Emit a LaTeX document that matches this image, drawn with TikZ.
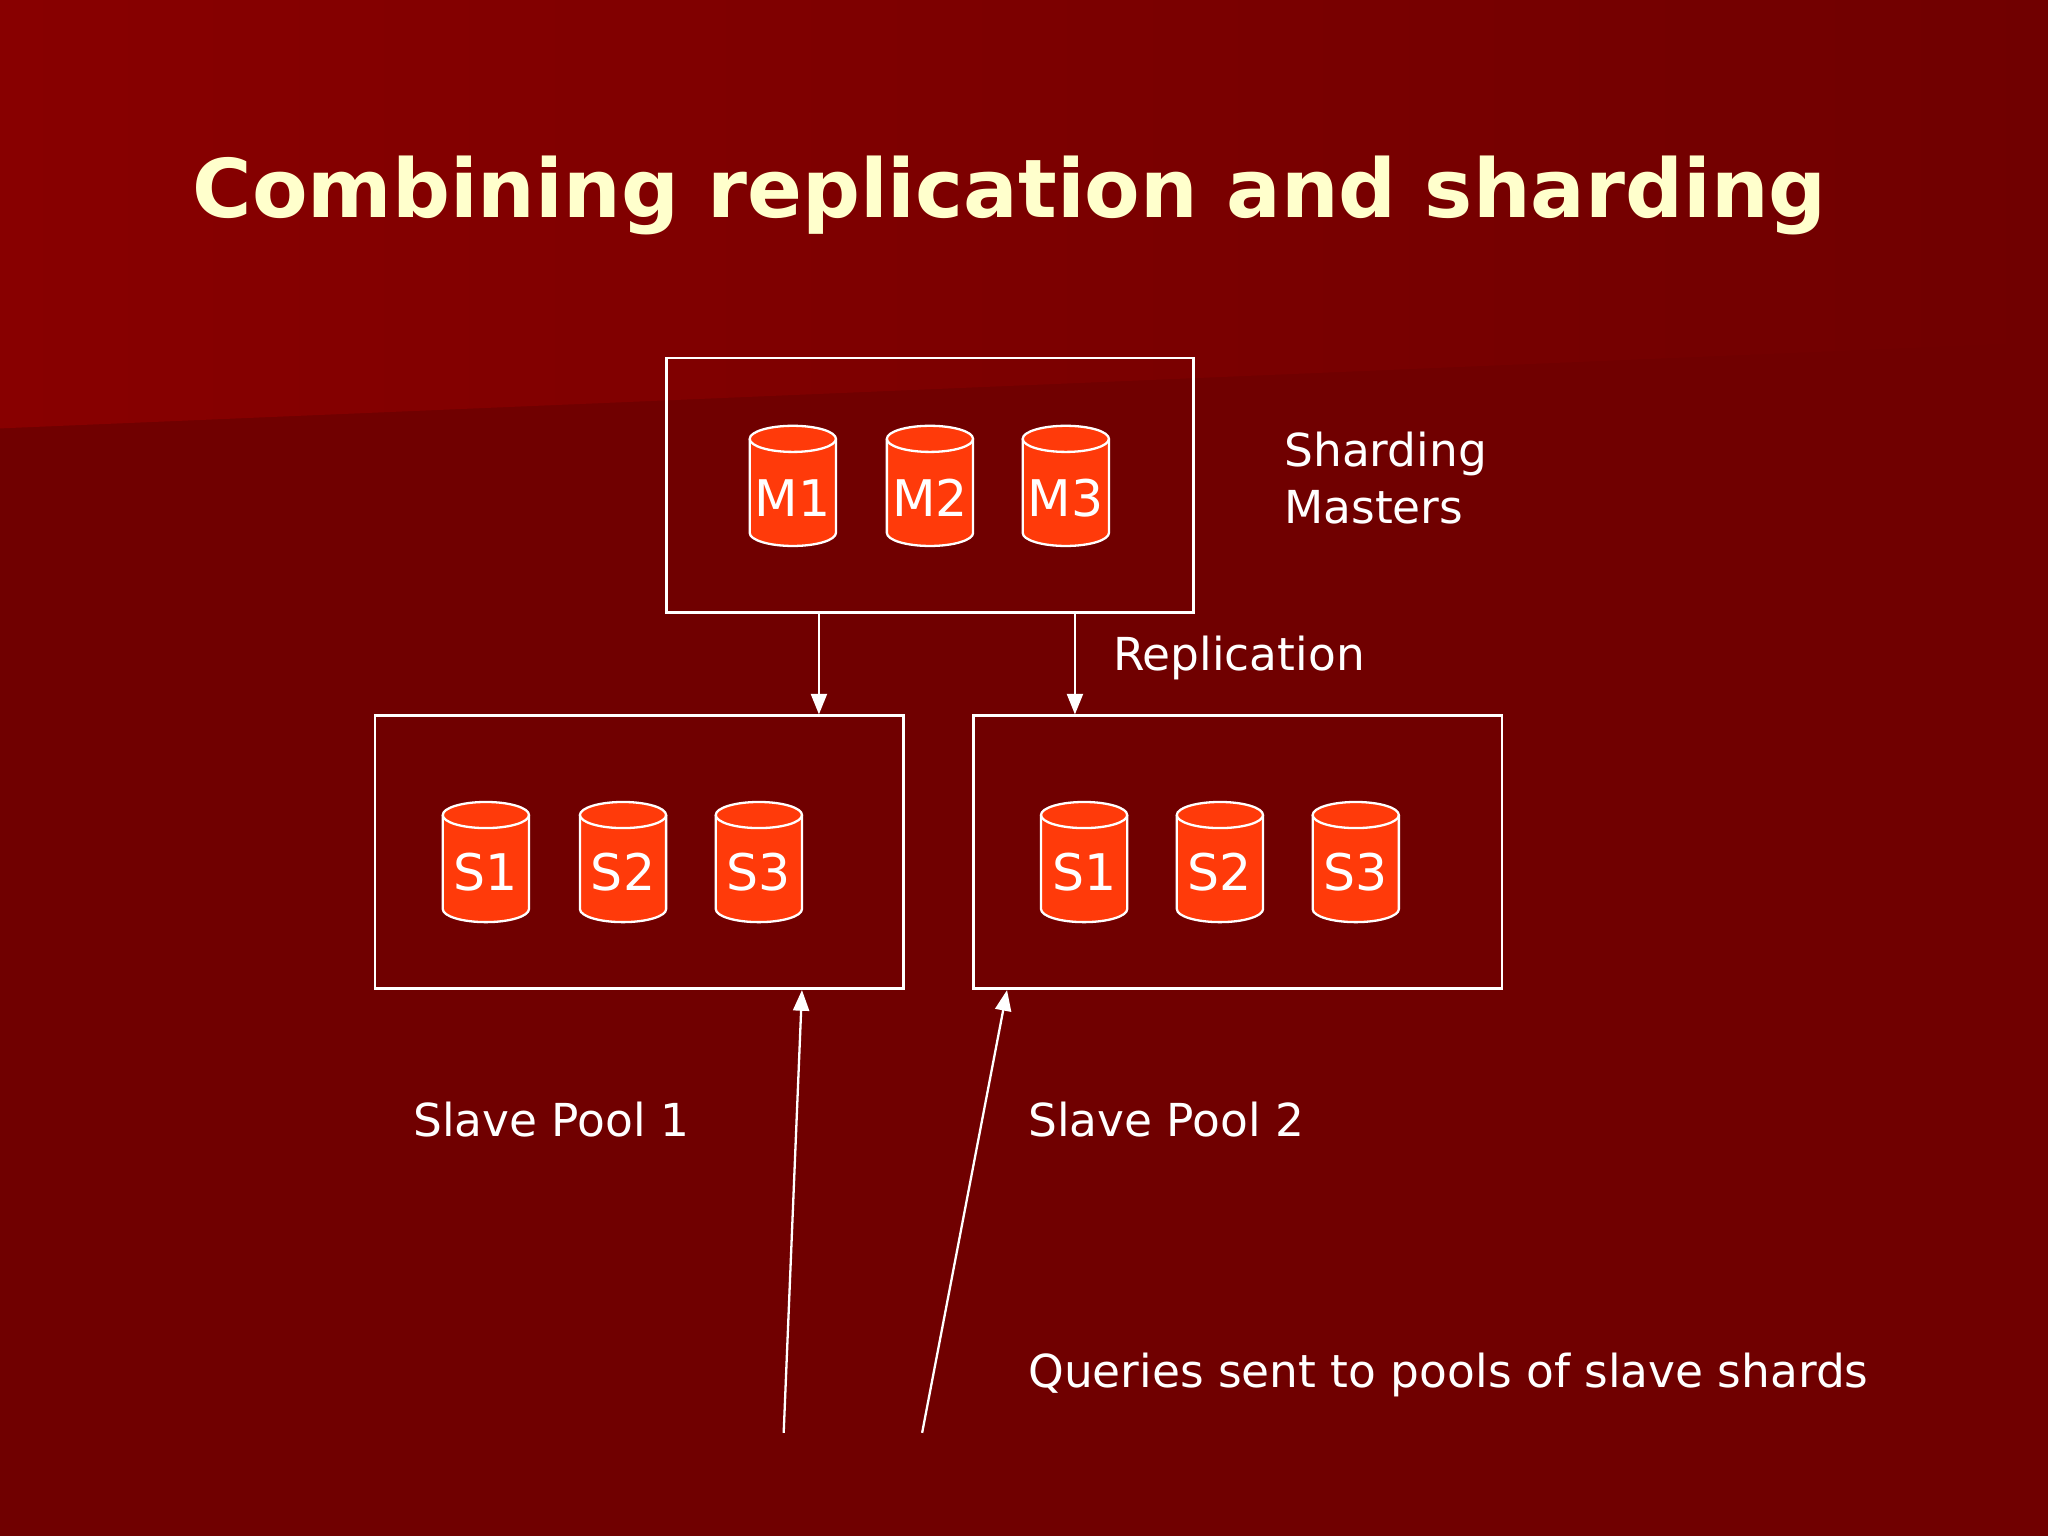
\documentclass[tikz,border=0pt]{standalone}
\usepackage{fontspec}
\setmainfont{DejaVu Sans}
\usetikzlibrary{arrows.meta}
\definecolor{bgdark}{HTML}{700000}
\definecolor{bglight}{HTML}{880000}
\definecolor{cyl}{HTML}{FF3A0A}
\definecolor{cream}{HTML}{FFFFCC}
\tikzset{
  box/.style={draw=white, line width=1.2pt, fill=none},
  arr/.style={draw=white, line width=1pt, -{Triangle[length=9pt,width=7pt]}},
  lbl/.style={text=white, font=\fontsize{19.8}{25}\selectfont, anchor=west, inner sep=0pt},
  cyltxt/.style={text=white, font=\fontsize{22}{26}\selectfont, inner sep=0pt},
}
\newcommand\mycyl[2]{%
  \fill[cyl] (#1-33,#2-36) rectangle (#1+33,#2+36);
  \fill[cyl] (#1,#2+36) ellipse[x radius=33,y radius=10];
  \filldraw[cyl, draw=white, line width=1pt] (#1,#2-36) ellipse[x radius=33,y radius=10];
  \draw[white, line width=1pt] (#1-33,#2-36) -- (#1-33,#2+36) arc[start angle=180,end angle=0,x radius=33,y radius=10] -- (#1+33,#2-36);
}
\begin{document}
\begin{tikzpicture}[x=0.02cm,y=-0.02cm]
\useasboundingbox (0,0) rectangle (1568,1176);
\fill[bgdark] (0,0) rectangle (1568,1176);
\shade[left color=bglight, right color=bgdark] (0,0) -- (1568,0) -- (1568,262) -- (0,328) -- cycle;
\node[text=cream, font=\bfseries\fontsize{35.3}{42}\selectfont, inner sep=0pt] (title) at (773,150) {Combining replication and sharding};

\node[box, minimum width=8.08cm, minimum height=3.9cm] (m) at (712,371.5) {};
\node[box, minimum width=8.1cm, minimum height=4.18cm] (p1) at (489.5,652.5) {};
\node[box, minimum width=8.1cm, minimum height=4.18cm] (p2) at (947.5,652.5) {};

\foreach \x/\t [count=\i] in {607/M1,712/M2,816/M3}{
  \mycyl{\x}{372}
  \node[cyltxt] (cm\i) at (\x,381) {\t};
}
\foreach \x/\t [count=\i] in {372/S1,477/S2,581/S3}{
  \mycyl{\x}{660}
  \node[cyltxt] (ca\i) at (\x,668) {\t};
}
\foreach \x/\t [count=\i] in {830/S1,934/S2,1038/S3}{
  \mycyl{\x}{660}
  \node[cyltxt] (cb\i) at (\x,668) {\t};
}

\draw[arr] (m.south -| 627,0) -- (p1.north -| 627,0);
\draw[arr] (m.south -| 823,0) -- (p2.north -| 823,0);
\coordinate (q1) at (600,1097);
\coordinate (q2) at (706,1097);
\draw[arr] (q1) -- (p1.south -| 614,0);
\draw[arr] (q2) -- (p2.south -| 771,0);

\node[lbl, align=left] (sm) at (983,366) {Sharding\\Masters};
\node[lbl] (rep) at (852,504) {Replication};
\node[lbl] (sp1) at (316,857) {Slave Pool 1};
\node[lbl] (sp2) at (787,857) {Slave Pool 2};
\node[lbl] (q) at (787,1053) {Queries sent to pools of slave shards};
\end{tikzpicture}
\end{document}
